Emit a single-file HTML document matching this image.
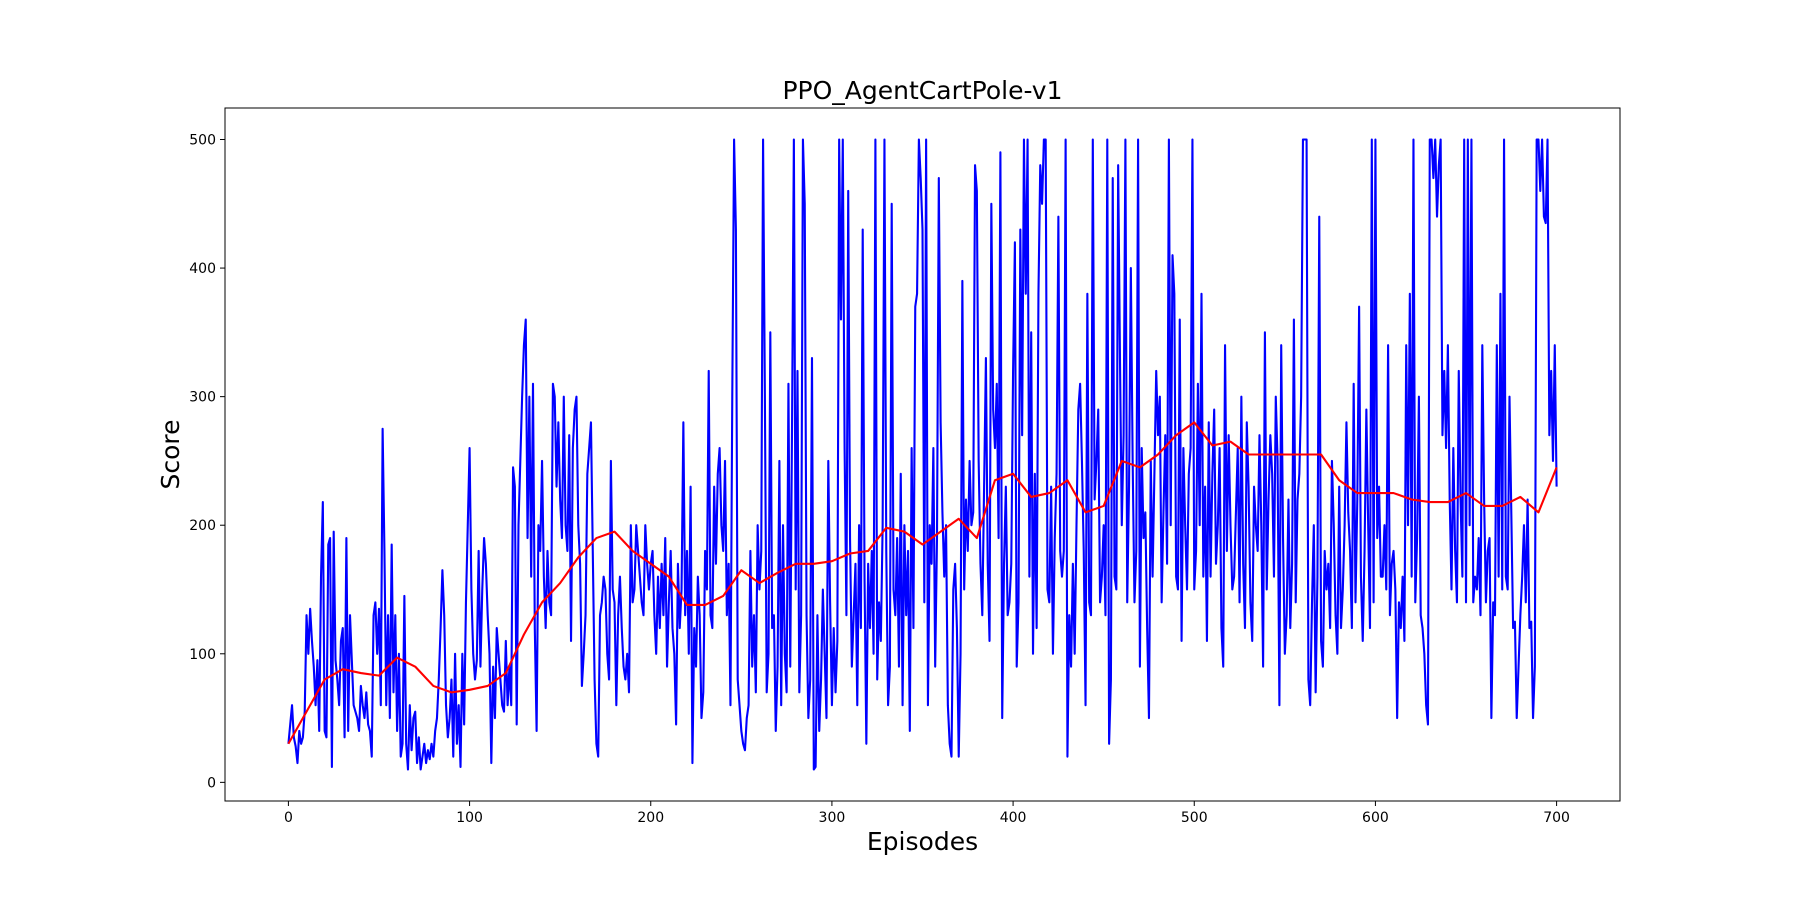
<!DOCTYPE html>
<html><head><meta charset="utf-8"><style>
html,body{margin:0;padding:0;background:#fff;}
svg{display:block;font-family:"DejaVu Sans","Liberation Sans",sans-serif;}
</style></head><body>
<svg id="chart" width="1800" height="900" viewBox="0 0 1800 900" xmlns="http://www.w3.org/2000/svg">
<rect width="1800" height="900" fill="#fff"/>
<g id="plot"></g>
<rect x="225" y="108" width="1395" height="693" fill="none" stroke="#000" stroke-width="1"/>
<g id="xticks"></g><g id="yticks"></g>
<text x="922.5" y="99" text-anchor="middle" font-size="25">PPO_AgentCartPole-v1</text>
<text x="922.5" y="850" text-anchor="middle" font-size="25">Episodes</text>
<text transform="translate(179,454.5) rotate(-90)" text-anchor="middle" font-size="25">Score</text>
</svg>
<script>
const xTicks=[0,100,200,300,400,500,600,700];
const yTicks=[0,100,200,300,400,500];
const scores=[
30,45,60,35,28,15,40,30,35,55,
130,100,135,110,90,60,95,40,160,218,
40,35,185,190,12,195,95,80,60,110,
120,35,190,40,130,95,60,55,50,40,
75,60,50,70,45,40,20,130,140,100,
135,60,275,180,60,130,50,185,70,130,
40,100,20,30,145,30,10,60,25,50,
55,15,35,10,20,30,15,25,18,30,
20,40,50,80,120,165,130,60,35,50,
80,20,100,30,60,12,100,45,140,200,
260,150,100,80,95,180,90,150,190,170,
130,100,15,90,50,120,100,80,60,55,
110,60,90,60,245,230,45,200,250,300,
340,360,190,300,160,310,120,40,200,180,
250,160,120,180,140,130,310,300,230,280,
220,190,300,200,180,270,110,260,290,300,
200,170,75,100,130,240,260,280,180,80,
30,20,130,140,160,150,100,80,250,150,
140,60,130,160,120,90,80,100,70,200,
140,150,200,180,160,140,130,200,170,150,
170,180,130,100,160,120,170,130,190,90,
140,180,120,100,45,170,120,150,280,130,
180,100,230,15,120,90,160,130,50,70,
180,150,320,130,120,230,170,240,260,200,
180,250,130,170,60,300,500,430,80,60,
40,30,25,50,60,180,90,130,70,200,
150,180,500,300,70,100,350,120,130,40,
90,250,60,200,100,70,310,90,280,500,
150,320,70,130,500,450,130,50,80,330,
10,12,130,40,80,150,100,50,250,140,
60,120,70,110,500,360,500,260,130,460,
190,90,130,170,60,200,120,430,160,30,
170,120,180,100,500,80,140,110,200,500,
180,60,90,450,150,130,190,90,240,60,
200,130,180,40,260,120,370,380,500,470,
430,140,500,60,200,170,260,90,190,470,
280,210,160,200,60,30,20,150,170,120,
20,100,390,150,220,180,250,200,210,480,
460,250,170,130,230,330,170,110,450,290,
260,310,190,490,50,170,230,130,140,170,
320,420,90,140,430,270,500,380,500,160,
350,100,240,120,380,480,450,500,500,150,
140,230,100,190,240,440,180,160,180,500,
20,130,90,170,100,200,290,310,250,180,
60,380,140,130,500,220,250,290,140,160,
200,130,500,30,80,470,160,150,480,330,
200,270,500,140,230,400,250,140,180,500,
90,260,190,210,120,50,250,160,240,320,
270,300,140,210,270,170,500,200,410,380,
160,150,360,110,260,200,150,240,260,500,
150,180,310,200,380,160,230,110,280,160,
240,290,170,200,260,120,90,340,180,270,
200,150,160,210,260,140,300,170,120,280,
230,140,110,230,200,180,270,200,90,350,
150,220,270,240,160,300,250,60,340,190,
100,130,220,120,170,360,140,220,240,300,
500,500,500,80,60,140,200,70,160,440,
110,90,180,150,170,120,250,200,130,100,
230,120,150,200,280,210,180,120,310,140,
220,370,160,110,180,290,200,120,500,140,
500,190,230,160,160,200,150,340,130,170,
180,150,50,140,120,160,110,340,200,380,
160,500,140,190,300,130,120,100,60,45,
500,500,470,500,440,480,500,270,320,260,
340,220,150,260,180,140,320,220,160,500,
140,500,200,500,140,160,150,190,130,340,
220,140,180,190,50,140,130,340,160,380,
150,500,160,150,300,210,120,125,50,90,
130,160,200,140,220,120,125,50,90,500,
500,460,500,440,435,500,270,320,250,340,
230
];
const avg=[30,55,80,88,85,83,97,90,75,70,72,75,85,115,140,155,175,190,195,180,170,160,138,138,145,165,155,163,170,170,172,178,180,198,195,185,195,205,190,235,240,222,225,235,210,215,250,245,255,270,280,262,265,255,255,255,255,255,235,225,225,225,220,218,218,225,215,215,222,210,245];
const avgStep=10;
const X0=-35,X1=735,Y0=-14.5,Y1=524.5;
const L=225,R=1620,T=108,B=801;
const xs=v=>L+(v-X0)/(X1-X0)*(R-L);
const ys=v=>B-(v-Y0)/(Y1-Y0)*(B-T);
const NS="http://www.w3.org/2000/svg";
const plot=document.getElementById('plot');
function mk(tag,attrs,parent){const e=document.createElementNS(NS,tag);for(const k in attrs)e.setAttribute(k,attrs[k]);parent.appendChild(e);return e;}
const clip=mk('clipPath',{id:'pc'},plot);mk('rect',{x:L,y:T,width:R-L,height:B-T},clip);
const bp=scores.map((v,i)=>(i?'L':'M')+xs(i).toFixed(2)+','+ys(v).toFixed(2)).join('');
const blue=mk('path',{d:bp,fill:'none',stroke:'#0000ff','stroke-width':2.1,'stroke-linejoin':'round','clip-path':'url(#pc)'},plot);


const rp=avg.map((v,i)=>(i?'L':'M')+xs(i*avgStep).toFixed(2)+','+ys(v).toFixed(2)).join('');
const red=mk('path',{d:rp,fill:'none',stroke:'#ff0000','stroke-width':2.1,'stroke-linejoin':'round','clip-path':'url(#pc)'},plot);


const xg=document.getElementById('xticks');
xTicks.forEach(t=>{const x=xs(t);
 const l=mk('line',{x1:x,x2:x,y1:B,y2:B+5,stroke:'#000'},xg);
 
 
 const tx=mk('text',{x:x,y:B+21,'text-anchor':'middle','font-size':14},xg);tx.textContent=t;
 
 });
const yg=document.getElementById('yticks');
yTicks.forEach(t=>{const y=ys(t);
 const l=mk('line',{x1:L-5,x2:L,y1:y,y2:y,stroke:'#000'},yg);
 
 
 const tx=mk('text',{x:L-9,y:y+5,'text-anchor':'end','font-size':14},yg);tx.textContent=t;
 
 });
</script>
</body></html>
